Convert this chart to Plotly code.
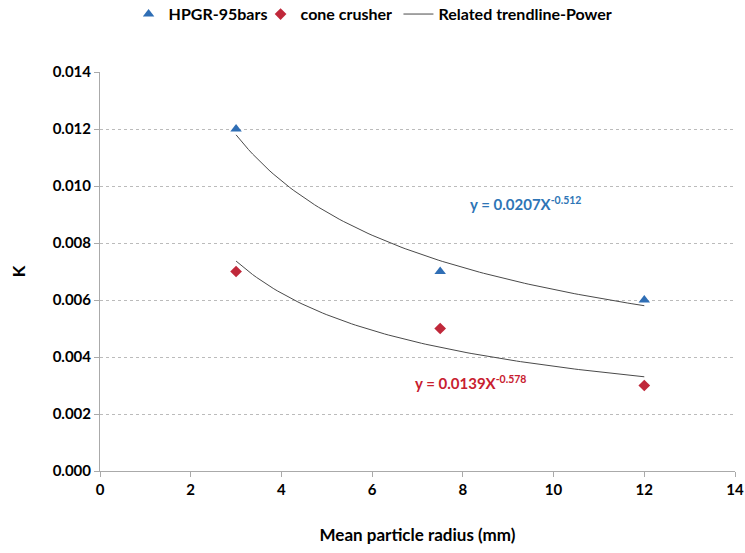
import numpy as np
import plotly.graph_objects as go

radius = [3, 7.5, 12]
hpgr_k = [0.012, 0.007, 0.006]
cone_k = [0.007, 0.005, 0.003]
hpgr_fit = (0.0207, -0.512)
cone_fit = (0.0139, -0.578)

xs = np.linspace(3, 12, 100)
font = "Lato, 'Open Sans', sans-serif"
blue = "#2F6EB5"
red = "#C0283A"

fig = go.Figure()
fig.add_trace(go.Scatter(x=radius, y=hpgr_k, mode="markers", name="HPGR-95bars",
                         marker=dict(symbol="triangle-up", size=10, color=blue)))
fig.add_trace(go.Scatter(x=radius, y=cone_k, mode="markers", name="cone crusher",
                         marker=dict(symbol="diamond", size=9, color=red)))
fig.add_trace(go.Scatter(x=xs, y=hpgr_fit[0] * xs ** hpgr_fit[1], mode="lines",
                         name="Related trendline-Power", legendgroup="tr", legend="legend2",
                         line=dict(color="#4a4a4a", width=1)))
fig.add_trace(go.Scatter(x=xs, y=cone_fit[0] * xs ** cone_fit[1], mode="lines",
                         name="Related trendline-Power", legendgroup="tr", showlegend=False,
                         legend="legend2",
                         line=dict(color="#4a4a4a", width=1)))

fig.add_annotation(x=9.38, y=0.00937, xref="x", yref="y", showarrow=False,
                   text="y = 0.0207X<sup>-0.512</sup>",
                   font=dict(family=font, size=15, color="#2E75B6", weight="bold"))
fig.add_annotation(x=8.17, y=0.00309, xref="x", yref="y", showarrow=False,
                   text="y = 0.0139X<sup>-0.578</sup>",
                   font=dict(family=font, size=15, color="#C8202F", weight="bold"))

legend_font = dict(family=font, size=16, color="black", weight="bold")
fig.update_layout(
    width=745, height=553,
    margin=dict(l=100, r=10, t=72, b=82, autoexpand=False),
    paper_bgcolor="white", plot_bgcolor="white",
    font=dict(family=font, size=15, color="black", weight="bold"),
    legend=dict(orientation="h", x=0.045, xanchor="left", y=1.145, yanchor="middle",
                font=legend_font, itemwidth=30, tracegroupgap=0,
                entrywidth=87, entrywidthmode="pixels", bgcolor="rgba(0,0,0,0)"),
    legend2=dict(orientation="h", x=0.47, xanchor="left", y=1.145, yanchor="middle",
                 font=legend_font, itemwidth=30, tracegroupgap=0,
                 bgcolor="rgba(0,0,0,0)"),
    showlegend=True,
)
fig.update_xaxes(range=[0, 14], tickvals=list(range(0, 15, 2)),
                 tickfont=dict(family=font, size=15, color="black", weight="bold"),
                 ticks="outside", ticklen=5, tickcolor="#aaaaaa",
                 showline=True, linecolor="#aaaaaa", linewidth=1,
                 showgrid=False, zeroline=False,
                 title=dict(text="Mean particle radius (mm)", standoff=32,
                            font=dict(family=font, size=17, color="black", weight="bold")))
fig.update_yaxes(range=[0, 0.014], tickvals=[i * 0.002 for i in range(8)],
                 tickformat=".3f",
                 tickfont=dict(family=font, size=15, color="black", weight="bold"),
                 ticks="outside", ticklen=5, tickcolor="#aaaaaa",
                 showline=True, linecolor="#aaaaaa", linewidth=1,
                 showgrid=True, gridcolor="#bbbbbb", griddash="dot", gridwidth=1,
                 zeroline=False,
                 title=dict(text="K", standoff=22,
                            font=dict(family=font, size=17, color="black", weight="bold")))

fig.write_html("out.html")
